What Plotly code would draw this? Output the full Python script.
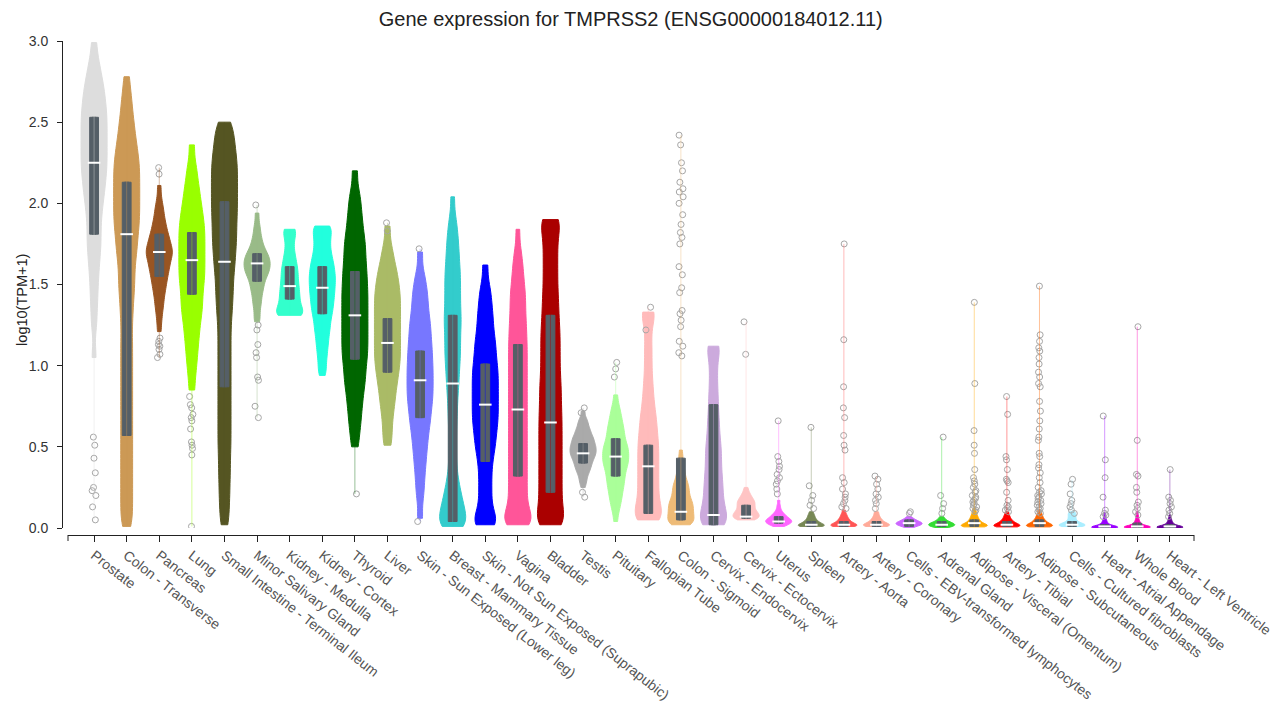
import plotly.graph_objects as go

tissues = ["Prostate", "Colon - Transverse", "Pancreas", "Lung", "Small Intestine - Terminal Ileum",
           "Minor Salivary Gland", "Kidney - Medulla", "Kidney - Cortex", "Thyroid", "Liver",
           "Skin - Sun Exposed (Lower leg)", "Breast - Mammary Tissue", "Skin - Not Sun Exposed (Suprapubic)",
           "Vagina", "Bladder", "Testis", "Pituitary", "Fallopian Tube", "Colon - Sigmoid",
           "Cervix - Endocervix", "Cervix - Ectocervix", "Uterus", "Spleen", "Artery - Aorta",
           "Artery - Coronary", "Cells - EBV-transformed lymphocytes", "Adrenal Gland",
           "Adipose - Visceral (Omentum)", "Artery - Tibial", "Adipose - Subcutaneous",
           "Cells - Cultured fibroblasts", "Heart - Atrial Appendage", "Whole Blood", "Heart - Left Ventricle"]

colors = ["#DDDDDD", "#CC9955", "#995522", "#99FF00", "#555522", "#99BB88", "#33FFCC", "#22FFDD",
          "#006600", "#AABB66", "#7777FF", "#33CCCC", "#0000FF", "#FF5599", "#AA0000", "#AAAAAA",
          "#AAFF99", "#FFBBBB", "#EEBB77", "#CCAADD", "#FFC4C4", "#FF66FF", "#778855", "#FF5555",
          "#FFAA99", "#CC66FF", "#33DD33", "#FFAA00", "#FF0000", "#FF6600", "#AAEEFF", "#9900FF",
          "#FF00BB", "#660099"]

# quartiles (log10(TPM+1))
q1 = [1.81, 0.57, 1.55, 1.44, 0.87, 1.52, 1.41, 1.32, 1.04, 0.96, 0.68, 0.04, 0.41, 0.32, 0.22, 0.40, 0.32,
      0.09, 0.05, 0.02, 0.06, 0.03, 0.01, 0.01, 0.01, 0.01, 0.01, 0.01, 0.01, 0.01, 0.01, 0.00, 0.00, 0.00]
median = [2.25, 1.81, 1.70, 1.65, 1.64, 1.63, 1.49, 1.48, 1.31, 1.14, 0.91, 0.89, 0.76, 0.73, 0.65, 0.46, 0.44,
          0.38, 0.10, 0.08, 0.07, 0.04, 0.02, 0.02, 0.02, 0.03, 0.02, 0.03, 0.02, 0.03, 0.02, 0.01, 0.01, 0.01]
q3 = [2.53, 2.13, 1.81, 1.82, 2.01, 1.69, 1.61, 1.61, 1.58, 1.29, 1.09, 1.31, 1.01, 1.13, 1.31, 0.52, 0.55,
      0.51, 0.43, 0.76, 0.14, 0.07, 0.04, 0.04, 0.04, 0.05, 0.04, 0.05, 0.04, 0.05, 0.04, 0.02, 0.03, 0.02]

# kernel bandwidth for each violin
bandwidths = [0.07, 0.07, 0.04, 0.06, 0.07, 0.035, 0.04, 0.04, 0.06, 0.06, 0.06, 0.06, 0.06, 0.06, 0.07, 0.02,
              0.035, 0.06, 0.03, 0.06, 0.015, 0.012, 0.01, 0.01, 0.01, 0.01, 0.01, 0.01, 0.01, 0.01, 0.01,
              0.008, 0.008, 0.008]

# --- per-tissue expression samples (violin bodies) ---
s_prostate = [2.99, 2.88, 2.83, 2.78, 2.74, 2.71, 2.68, 2.65, 2.62, 2.59, 2.57, 2.54, 2.52, 2.49, 2.47, 2.44,
              2.42, 2.39, 2.37, 2.34, 2.32, 2.29, 2.27, 2.24, 2.22, 2.19, 2.17, 2.14, 2.11, 2.08, 2.05, 2.02,
              1.98, 1.94, 1.90, 1.85, 1.80, 1.76, 1.71, 1.66, 1.60, 1.53, 1.45, 1.36, 1.25, 1.05]
s_colon_t = [2.78, 2.68, 2.62, 2.56, 2.51, 2.47, 2.43, 2.39, 2.36, 2.33, 2.30, 2.27, 2.25, 2.22, 2.20, 2.17,
             2.15, 2.12, 2.10, 2.07, 2.05, 2.02, 2.00, 1.97, 1.95, 1.92, 1.90, 1.87, 1.85, 1.82, 1.79, 1.76,
             1.73, 1.70, 1.67, 1.63, 1.59, 1.55, 1.51, 1.47, 1.43, 1.38, 1.33, 1.28, 1.22, 1.16, 1.11, 1.05,
             1.00, 0.94, 0.89, 0.83, 0.78, 0.72, 0.67, 0.61, 0.56, 0.50, 0.45, 0.39, 0.34, 0.28, 0.23, 0.17,
             0.12, 0.06, 0.01]
s_pancreas = [2.11, 2.03, 1.98, 1.95, 1.92, 1.89, 1.87, 1.85, 1.83, 1.81, 1.80, 1.78, 1.77, 1.76, 1.74, 1.73,
              1.72, 1.71, 1.70, 1.69, 1.68, 1.67, 1.66, 1.64, 1.63, 1.62, 1.60, 1.59, 1.57, 1.56, 1.54, 1.52,
              1.50, 1.48, 1.46, 1.43, 1.40, 1.37, 1.33, 1.28, 1.21]
s_lung = [2.36, 2.24, 2.18, 2.12, 2.08, 2.04, 2.00, 1.97, 1.94, 1.91, 1.88, 1.86, 1.83, 1.81, 1.78, 1.76, 1.73,
          1.71, 1.68, 1.66, 1.63, 1.61, 1.58, 1.56, 1.53, 1.51, 1.48, 1.45, 1.42, 1.39, 1.36, 1.33, 1.30, 1.26,
          1.22, 1.18, 1.13, 1.08, 1.02, 0.95, 0.85]
s_small_int = [2.50, 2.47, 2.44, 2.40, 2.37, 2.34, 2.31, 2.28, 2.26, 2.23, 2.21, 2.18, 2.16, 2.13, 2.11, 2.08,
               2.06, 2.03, 2.01, 1.98, 1.96, 1.93, 1.91, 1.88, 1.85, 1.83, 1.80, 1.77, 1.75, 1.72, 1.69, 1.66,
               1.63, 1.60, 1.57, 1.53, 1.49, 1.46, 1.42, 1.38, 1.34, 1.30, 1.25, 1.20, 1.15, 1.10, 1.05, 1.00,
               0.95, 0.90, 0.85, 0.80, 0.75, 0.70, 0.65, 0.60, 0.55, 0.50, 0.45, 0.39, 0.34, 0.28, 0.22, 0.16,
               0.09, 0.02]
s_minor_sal = [1.94, 1.87, 1.83, 1.79, 1.77, 1.74, 1.72, 1.71, 1.69, 1.68, 1.67, 1.66, 1.65, 1.64, 1.63, 1.62,
               1.61, 1.60, 1.59, 1.58, 1.57, 1.56, 1.54, 1.53, 1.51, 1.49, 1.47, 1.45, 1.42, 1.39, 1.36, 1.31,
               1.27]
s_kid_med = [1.84, 1.84, 1.83, 1.81, 1.78, 1.75, 1.72, 1.69, 1.67, 1.65, 1.63, 1.61, 1.60, 1.58, 1.57, 1.55,
             1.54, 1.52, 1.51, 1.49, 1.48, 1.47, 1.45, 1.44, 1.43, 1.42, 1.40, 1.39, 1.38, 1.37, 1.35, 1.34,
             1.33, 1.32, 1.32, 1.31, 1.31, 1.31, 1.31]
s_kid_cor = [1.86, 1.86, 1.85, 1.83, 1.81, 1.79, 1.77, 1.75, 1.73, 1.71, 1.69, 1.67, 1.66, 1.64, 1.63, 1.61,
             1.60, 1.59, 1.57, 1.56, 1.55, 1.54, 1.52, 1.51, 1.50, 1.49, 1.47, 1.46, 1.45, 1.43, 1.42, 1.41,
             1.39, 1.38, 1.36, 1.35, 1.33, 1.32, 1.30, 1.28, 1.26, 1.24, 1.22, 1.20, 1.17, 1.15, 1.12, 1.09,
             1.06, 1.02, 0.98, 0.94]
s_thyroid = [2.20, 2.08, 2.02, 1.97, 1.92, 1.88, 1.84, 1.80, 1.77, 1.74, 1.71, 1.68, 1.65, 1.62, 1.59, 1.57,
             1.54, 1.51, 1.49, 1.46, 1.44, 1.41, 1.39, 1.36, 1.34, 1.31, 1.29, 1.26, 1.24, 1.21, 1.19, 1.16,
             1.14, 1.11, 1.09, 1.06, 1.04, 1.01, 0.98, 0.95, 0.92, 0.89, 0.86, 0.82, 0.78, 0.74, 0.69, 0.64,
             0.58, 0.50]
s_liver = [1.86, 1.74, 1.68, 1.63, 1.59, 1.56, 1.53, 1.50, 1.47, 1.45, 1.42, 1.40, 1.37, 1.35, 1.32, 1.30, 1.27,
           1.25, 1.22, 1.20, 1.17, 1.15, 1.12, 1.10, 1.07, 1.05, 1.02, 1.00, 0.97, 0.94, 0.91, 0.88, 0.84, 0.80,
           0.76, 0.71, 0.65, 0.58, 0.51]
s_skin_se = [1.70, 1.57, 1.51, 1.46, 1.42, 1.38, 1.34, 1.30, 1.27, 1.24, 1.21, 1.18, 1.15, 1.12, 1.10, 1.07,
             1.04, 1.02, 0.99, 0.97, 0.94, 0.92, 0.89, 0.87, 0.84, 0.82, 0.79, 0.77, 0.74, 0.71, 0.68, 0.65,
             0.62, 0.58, 0.54, 0.50, 0.45, 0.40, 0.34, 0.27, 0.19, 0.06]
s_breast = [2.04, 1.92, 1.86, 1.81, 1.77, 1.73, 1.69, 1.66, 1.62, 1.59, 1.56, 1.53, 1.50, 1.47, 1.44, 1.41,
            1.38, 1.35, 1.32, 1.29, 1.27, 1.24, 1.21, 1.18, 1.15, 1.12, 1.09, 1.06, 1.03, 1.00, 0.96, 0.93,
            0.89, 0.85, 0.81, 0.76, 0.71, 0.66, 0.60, 0.54, 0.48, 0.42, 0.36, 0.31, 0.27, 0.24, 0.21, 0.18,
            0.16, 0.14, 0.12, 0.10, 0.08, 0.06, 0.045, 0.03, 0.02, 0.01, 0.01]
s_skin_nse = [1.62, 1.50, 1.44, 1.39, 1.34, 1.30, 1.26, 1.22, 1.18, 1.15, 1.12, 1.09, 1.06, 1.03, 1.00, 0.98,
              0.95, 0.93, 0.90, 0.88, 0.85, 0.83, 0.80, 0.78, 0.75, 0.73, 0.70, 0.68, 0.65, 0.63, 0.60, 0.57,
              0.54, 0.51, 0.48, 0.44, 0.40, 0.35, 0.30, 0.25, 0.20, 0.15, 0.10, 0.06, 0.04, 0.02, 0.02]
s_vagina = [1.84, 1.72, 1.66, 1.61, 1.57, 1.53, 1.49, 1.46, 1.43, 1.40, 1.37, 1.34, 1.31, 1.28, 1.25, 1.23,
            1.20, 1.17, 1.15, 1.12, 1.10, 1.07, 1.05, 1.02, 1.00, 0.97, 0.95, 0.92, 0.90, 0.87, 0.85, 0.82,
            0.80, 0.77, 0.75, 0.72, 0.70, 0.67, 0.65, 0.62, 0.60, 0.57, 0.55, 0.52, 0.50, 0.47, 0.45, 0.42,
            0.40, 0.37, 0.35, 0.32, 0.30, 0.27, 0.25, 0.22, 0.20, 0.17, 0.15, 0.12, 0.10, 0.08, 0.06, 0.05,
            0.04, 0.03, 0.02, 0.02]
s_bladder = [1.90, 1.90, 1.89, 1.86, 1.82, 1.78, 1.74, 1.70, 1.66, 1.62, 1.58, 1.54, 1.50, 1.46, 1.42, 1.39,
             1.35, 1.32, 1.28, 1.25, 1.22, 1.19, 1.16, 1.13, 1.10, 1.07, 1.04, 1.01, 0.98, 0.95, 0.92, 0.89,
             0.87, 0.84, 0.81, 0.79, 0.76, 0.73, 0.71, 0.68, 0.66, 0.63, 0.61, 0.58, 0.56, 0.53, 0.51, 0.48,
             0.46, 0.43, 0.41, 0.38, 0.36, 0.33, 0.31, 0.28, 0.26, 0.23, 0.21, 0.18, 0.16, 0.13, 0.11, 0.08,
             0.06, 0.04, 0.03, 0.02, 0.02]
s_testis = [0.72, 0.68, 0.66, 0.645, 0.63, 0.615, 0.605, 0.595, 0.585, 0.575, 0.565, 0.56, 0.55, 0.545, 0.537,
            0.53, 0.523, 0.516, 0.51, 0.504, 0.498, 0.492, 0.486, 0.48, 0.474, 0.468, 0.462, 0.456, 0.45,
            0.444, 0.437, 0.43, 0.423, 0.415, 0.407, 0.398, 0.39, 0.38, 0.37, 0.36, 0.348, 0.336, 0.32, 0.30,
            0.28, 0.25]
s_pituitary = [0.82, 0.76, 0.73, 0.70, 0.68, 0.66, 0.64, 0.62, 0.61, 0.59, 0.58, 0.56, 0.55, 0.535, 0.52, 0.51,
               0.50, 0.49, 0.48, 0.47, 0.46, 0.45, 0.44, 0.43, 0.42, 0.41, 0.40, 0.39, 0.38, 0.37, 0.355,
               0.34, 0.33, 0.315, 0.30, 0.285, 0.27, 0.255, 0.24, 0.22, 0.20, 0.18, 0.16, 0.13, 0.10, 0.04]
s_fallopian = [1.33, 1.33, 1.30, 1.23, 1.15, 1.08, 1.01, 0.94, 0.88, 0.83, 0.78, 0.74, 0.70, 0.67, 0.64, 0.61,
               0.58, 0.55, 0.53, 0.50, 0.48, 0.45, 0.43, 0.40, 0.38, 0.35, 0.33, 0.30, 0.28, 0.25, 0.23, 0.20,
               0.18, 0.15, 0.13, 0.11, 0.09, 0.07, 0.06, 0.05, 0.05]
s_colon_s = [0.48, 0.43, 0.40, 0.37, 0.35, 0.33, 0.31, 0.295, 0.28, 0.27, 0.26, 0.25, 0.24, 0.23, 0.22, 0.21,
             0.20, 0.19, 0.18, 0.17, 0.165, 0.16, 0.15, 0.145, 0.14, 0.13, 0.125, 0.12, 0.11, 0.105, 0.10,
             0.09, 0.085, 0.08, 0.07, 0.065, 0.06, 0.05, 0.045, 0.04, 0.035, 0.03, 0.025, 0.02, 0.02]
s_cervix_endo = [1.12, 1.12, 1.09, 1.03, 0.97, 0.91, 0.85, 0.80, 0.75, 0.70, 0.66, 0.62, 0.58, 0.54, 0.51, 0.48,
                 0.45, 0.42, 0.39, 0.36, 0.33, 0.30, 0.28, 0.25, 0.23, 0.20, 0.18, 0.15, 0.13, 0.11, 0.09,
                 0.07, 0.05, 0.04, 0.03, 0.02, 0.02]
s_cervix_ecto = [0.25, 0.23, 0.215, 0.205, 0.195, 0.19, 0.18, 0.175, 0.17, 0.165, 0.16, 0.155, 0.15, 0.145, 0.14,
                 0.135, 0.13, 0.125, 0.12, 0.115, 0.11, 0.105, 0.10, 0.097, 0.093, 0.09, 0.087, 0.083, 0.08,
                 0.077, 0.073, 0.07, 0.067, 0.063, 0.06, 0.057, 0.054, 0.05, 0.05]
s_uterus = [0.17, 0.14, 0.12, 0.105, 0.095, 0.088, 0.082, 0.077, 0.072, 0.068, 0.064, 0.06, 0.057, 0.054, 0.051,
            0.048, 0.046, 0.043, 0.041, 0.039, 0.036, 0.034, 0.031, 0.028, 0.025, 0.022, 0.018, 0.014, 0.01]
s_spleen = [0.10, 0.085, 0.075, 0.066, 0.058, 0.051, 0.045, 0.04, 0.036, 0.032, 0.028, 0.025, 0.022, 0.019,
            0.017, 0.015, 0.013, 0.011, 0.01, 0.01, 0.01]
s_aorta = [0.11, 0.09, 0.078, 0.068, 0.06, 0.053, 0.047, 0.042, 0.037, 0.033, 0.029, 0.026, 0.023, 0.02, 0.018,
           0.016, 0.014, 0.012, 0.01, 0.01, 0.01]
s_coronary = [0.10, 0.085, 0.072, 0.063, 0.055, 0.049, 0.043, 0.038, 0.034, 0.03, 0.027, 0.024, 0.021, 0.019,
              0.017, 0.015, 0.013, 0.011, 0.01, 0.01]
s_ebv = [0.07, 0.06, 0.053, 0.048, 0.044, 0.041, 0.038, 0.035, 0.033, 0.031, 0.029, 0.027, 0.025, 0.023, 0.021,
         0.019, 0.016, 0.013, 0.009, 0.004]
s_adrenal = [0.07, 0.058, 0.05, 0.044, 0.039, 0.035, 0.032, 0.029, 0.027, 0.025, 0.023, 0.021, 0.019, 0.017,
             0.015, 0.013, 0.011, 0.009, 0.006, 0.003]
s_adipose_v = [0.12, 0.10, 0.085, 0.074, 0.065, 0.057, 0.05, 0.044, 0.039, 0.034, 0.03, 0.026, 0.023, 0.02,
               0.018, 0.016, 0.014, 0.012, 0.01, 0.009, 0.008, 0.007]
s_tibial = [0.10, 0.082, 0.07, 0.06, 0.052, 0.045, 0.04, 0.035, 0.031, 0.027, 0.024, 0.021, 0.018, 0.016, 0.014,
            0.012, 0.01, 0.009, 0.008, 0.007]
s_adipose_s = [0.11, 0.09, 0.077, 0.067, 0.058, 0.051, 0.045, 0.04, 0.035, 0.031, 0.027, 0.024, 0.021, 0.018,
               0.016, 0.014, 0.012, 0.01, 0.009, 0.008, 0.007]
s_fibro = [0.10, 0.09, 0.08, 0.07, 0.06, 0.05, 0.042, 0.035, 0.03, 0.026, 0.023, 0.02, 0.018, 0.016, 0.014,
           0.012, 0.01, 0.009]
s_heart_aa = [0.09, 0.07, 0.055, 0.045, 0.037, 0.03, 0.025, 0.02, 0.017, 0.014, 0.012, 0.01, 0.008, 0.007,
              0.006, 0.005, 0.004, 0.003, 0.003, 0.002, 0.002, 0.001, 0.001, 0.0]
s_blood = [0.10, 0.078, 0.062, 0.05, 0.041, 0.034, 0.028, 0.023, 0.019, 0.016, 0.013, 0.011, 0.009, 0.008,
           0.007, 0.006, 0.005, 0.004, 0.003, 0.003, 0.002, 0.002, 0.001, 0.0]
s_heart_lv = [0.08, 0.062, 0.05, 0.041, 0.034, 0.028, 0.023, 0.019, 0.016, 0.013, 0.011, 0.009, 0.008, 0.007,
              0.006, 0.005, 0.004, 0.003, 0.003, 0.002, 0.002, 0.001, 0.001, 0.0]

# --- per-tissue outliers ---
o_prostate = [0.56, 0.51, 0.43, 0.34, 0.25, 0.23, 0.20, 0.13, 0.05]
o_pancreas = [2.22, 2.18, 1.17, 1.15, 1.13, 1.12, 1.10, 1.07, 1.05]
o_lung = [0.81, 0.76, 0.74, 0.70, 0.68, 0.66, 0.61, 0.53, 0.51, 0.49, 0.45, 0.01]
o_minor_sal = [1.99, 1.25, 1.22, 1.13, 1.08, 1.05, 0.93, 0.91, 0.75, 0.68]
o_thyroid = [0.21]
o_liver = [1.88, 1.83]
o_skin_se = [1.72, 0.04]
o_testis = [0.74, 0.71, 0.22, 0.19]
o_pituitary = [1.02, 0.98, 0.93]
o_fallopian = [1.36, 1.22]
o_colon_s = [2.42, 2.36, 2.25, 2.20, 2.13, 2.09, 2.07, 2.04, 2.00, 1.93, 1.87, 1.82, 1.79, 1.75, 1.61, 1.56,
             1.48, 1.45, 1.34, 1.32, 1.28, 1.24, 1.15, 1.12, 1.08, 1.06]
o_cervix_ecto = [1.27, 1.07]
o_uterus = [0.66, 0.44, 0.41, 0.38, 0.36, 0.33, 0.31, 0.29, 0.27, 0.24, 0.21]
o_spleen = [0.62, 0.26, 0.20, 0.17, 0.14, 0.12]
o_aorta = [1.75, 1.16, 0.87, 0.74, 0.68, 0.57, 0.51, 0.48, 0.31, 0.28, 0.24, 0.21, 0.19, 0.17, 0.15, 0.13, 0.12]
o_coronary = [0.32, 0.30, 0.27, 0.24, 0.21, 0.19, 0.17, 0.15, 0.12]
o_ebv = [0.10, 0.09]
o_adrenal = [0.56, 0.20, 0.15, 0.12, 0.09]
o_adipose_v = [1.39, 0.89, 0.60, 0.51, 0.46, 0.36, 0.31, 0.29, 0.27, 0.25, 0.23, 0.22, 0.20, 0.19, 0.18, 0.17,
               0.16, 0.15, 0.14, 0.13, 0.12, 0.11, 0.10]
o_tibial = [0.81, 0.70, 0.44, 0.42, 0.36, 0.30, 0.29, 0.28, 0.22, 0.17, 0.14, 0.13, 0.12, 0.11, 0.10]
o_adipose_s = [1.49, 1.19, 1.15, 1.11, 1.09, 1.05, 1.01, 0.96, 0.93, 0.89, 0.87, 0.78, 0.72, 0.66, 0.61, 0.56,
               0.54, 0.46, 0.44, 0.39, 0.37, 0.34, 0.31, 0.28, 0.25, 0.23, 0.22, 0.21, 0.20, 0.19, 0.18, 0.17,
               0.16, 0.15, 0.14, 0.13, 0.12, 0.11, 0.10, 0.09]
o_fibro = [0.30, 0.27, 0.21, 0.17, 0.15, 0.13, 0.11, 0.09]
o_heart_aa = [0.69, 0.42, 0.31, 0.19, 0.11, 0.09, 0.08, 0.07]
o_blood = [1.24, 0.54, 0.33, 0.32, 0.25, 0.22, 0.16, 0.14, 0.12, 0.10, 0.08]
o_heart_lv = [0.36, 0.19, 0.17, 0.15, 0.13, 0.11, 0.09, 0.07]

samples = [s_prostate, s_colon_t, s_pancreas, s_lung, s_small_int, s_minor_sal, s_kid_med, s_kid_cor,
           s_thyroid, s_liver, s_skin_se, s_breast, s_skin_nse, s_vagina, s_bladder, s_testis, s_pituitary,
           s_fallopian, s_colon_s, s_cervix_endo, s_cervix_ecto, s_uterus, s_spleen, s_aorta, s_coronary,
           s_ebv, s_adrenal, s_adipose_v, s_tibial, s_adipose_s, s_fibro, s_heart_aa, s_blood, s_heart_lv]
outliers = [o_prostate, [], o_pancreas, o_lung, [], o_minor_sal, [], [], o_thyroid, o_liver, o_skin_se, [], [],
            [], [], o_testis, o_pituitary, o_fallopian, o_colon_s, [], o_cervix_ecto, o_uterus, o_spleen,
            o_aorta, o_coronary, o_ebv, o_adrenal, o_adipose_v, o_tibial, o_adipose_s, o_fibro, o_heart_aa,
            o_blood, o_heart_lv]

fig = go.Figure()

# thin, faint violin tails running through the outliers
for name, col, ys, outs in zip(tissues, colors, samples, outliers):
    allv = ys + outs
    fig.add_trace(go.Scatter(
        x=[name, name], y=[min(allv), max(allv)], mode="lines",
        line=dict(color=col, width=1), opacity=0.4, showlegend=False, hoverinfo="skip"))

for name, col, ys, bw in zip(tissues, colors, samples, bandwidths):
    fig.add_trace(go.Violin(
        x=[name] * len(ys), y=ys, name=name, fillcolor=col, line=dict(color=col, width=1),
        opacity=1, points=False, box_visible=False, meanline_visible=False,
        spanmode="hard", bandwidth=bw, scalemode="width", width=0.8,
        showlegend=False, hoverinfo="skip"))

fig.add_trace(go.Box(
    x=tissues, q1=q1, median=median, q3=q3, lowerfence=q1, upperfence=q3,
    width=0.27, fillcolor="#555f67", line=dict(color="#555f67", width=1),
    boxpoints=False, showlegend=False, hoverinfo="skip"))

fig.add_trace(go.Scatter(
    x=tissues, y=median, mode="markers", showlegend=False, hoverinfo="skip",
    marker=dict(symbol="line-ew", size=9, line=dict(color="white", width=2))))

ox, oy = [], []
for name, vals in zip(tissues, outliers):
    ox += [name] * len(vals)
    oy += vals
fig.add_trace(go.Box(
    x=ox, y=oy, boxpoints="all", jitter=0.5, pointpos=0, width=0.3,
    fillcolor="rgba(0,0,0,0)", line=dict(color="rgba(0,0,0,0)", width=0),
    marker=dict(symbol="circle-open", size=6, color="#a6a6a6", line=dict(width=1)),
    showlegend=False, hoverinfo="skip"))

# d3-style outer ticks at both ends of the category axis
for xd in (0, 1):
    fig.add_shape(type="line", xref="x domain", yref="y domain", x0=xd, x1=xd,
                  y0=-7 / 487, y1=-13 / 487, line=dict(color="#222", width=1))

# y-axis title
fig.add_annotation(text="log10(TPM+1)", textangle=-90, xref="paper", yref="paper",
                   x=-0.0353, y=0.476, xanchor="center", yanchor="middle", showarrow=False,
                   font=dict(size=14.5, color="#222"))

fig.update_layout(
    width=1284, height=710,
    margin=dict(l=54, r=98, t=33, b=183, autoexpand=False),
    paper_bgcolor="white", plot_bgcolor="white",
    violinmode="overlay", boxmode="overlay",
    font=dict(family="Liberation Sans, Arial, sans-serif"),
    title=dict(text="Gene expression for TMPRSS2 (ENSG00000184012.11)",
               x=0.485, xref="container", xanchor="center", y=0.984, yref="container", yanchor="middle",
               font=dict(size=20, color="#222")),
    xaxis=dict(type="category", categoryorder="array", categoryarray=tissues, automargin=False,
               domain=[6 / 1132, 1], range=[-0.8, 33.74], anchor="free", position=0,
               showline=True, linecolor="#222", linewidth=1, ticks="outside", ticklen=6,
               tickcolor="#222", tickangle=38, tickfont=dict(size=14, color="#555"),
               showgrid=False, zeroline=False),
    yaxis=dict(domain=[7 / 494, 1], range=[0, 3], anchor="free", position=0, automargin=False,
               tickvals=[0, 0.5, 1, 1.5, 2, 2.5, 3], tickformat=".1f", ticklabelstandoff=6,
               showline=True, linecolor="#222", linewidth=1, ticks="outside", ticklen=5,
               tickcolor="#222", tickfont=dict(size=14, color="#333"),
               showgrid=False, zeroline=False),
)

fig.write_html("out.html")
